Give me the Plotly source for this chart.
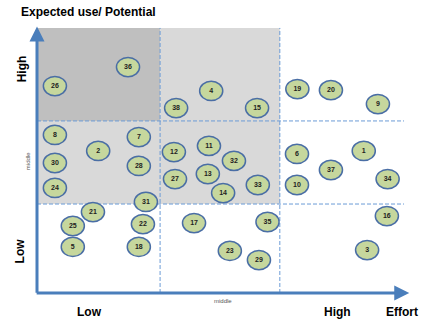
import plotly.graph_objects as go

# Bubble data: id, effort (x, 0-10), expected use/potential (y, 0-10)
ids = ["26", "36", "38", "4", "15", "19", "20", "9",
       "8", "2", "7", "30", "28", "24", "12", "11", "27", "13",
       "31", "21", "32", "14", "33", "6", "1", "37", "10", "34",
       "16", "25", "22", "17", "5", "18", "35", "23", "29", "3"]
effort = [0.48, 2.44, 3.73, 4.67, 5.90, 6.98, 7.88, 9.14,
          0.48, 1.64, 2.73, 0.48, 2.73, 0.48, 3.67, 4.61, 3.70, 4.58,
          2.92, 1.50, 5.28, 4.99, 5.92, 6.97, 8.76, 7.88, 6.97, 9.40,
          9.38, 0.96, 2.84, 4.21, 0.96, 2.73, 6.18, 5.17, 5.95, 8.85]
potential = [7.72, 8.43, 6.90, 7.54, 6.90, 7.61, 7.57, 7.05,
             5.90, 5.30, 5.82, 4.85, 4.74, 3.92, 5.26, 5.49, 4.25, 4.44,
             3.40, 3.02, 4.93, 3.73, 4.03, 5.19, 5.30, 4.59, 4.03, 4.25,
             2.87, 2.50, 2.57, 2.61, 1.72, 1.72, 2.65, 1.57, 1.23, 1.60]

# Zone thresholds (axis units)
x_cuts = [3.30, 6.51]
y_cuts = [3.32, 6.42]
x_end = 9.84
y_top = 9.89
x_max, y_max = 10.0, 10.0

fig = go.Figure()

shapes = []
# shaded zones
shapes.append(dict(type="rect", xref="x", yref="y", x0=0, x1=x_cuts[0], y0=y_cuts[1], y1=y_top,
                   fillcolor="#bfbfbf", line=dict(width=0), layer="below"))
shapes.append(dict(type="rect", xref="x", yref="y", x0=x_cuts[0], x1=x_cuts[1], y0=y_cuts[1], y1=y_top,
                   fillcolor="#d9d9d9", line=dict(width=0), layer="below"))
shapes.append(dict(type="rect", xref="x", yref="y", x0=0, x1=x_cuts[1], y0=y_cuts[0], y1=y_cuts[1],
                   fillcolor="#d9d9d9", line=dict(width=0), layer="below"))
# dashed dividers
for xc in x_cuts:
    shapes.append(dict(type="line", xref="x", yref="y", x0=xc, x1=xc, y0=0, y1=y_top,
                       line=dict(color="#6b9bd6", width=1, dash="4px,2px"), layer="below"))
for yc in y_cuts:
    shapes.append(dict(type="line", xref="x", yref="y", x0=0, x1=x_end, y0=yc, y1=yc,
                       line=dict(color="#6b9bd6", width=1, dash="4px,2px"), layer="below"))

# bubbles as ellipses (drawn under the text trace)
rx, ry = 0.31, 0.36
for xv, yv in zip(effort, potential):
    shapes.append(dict(type="circle", xref="x", yref="y", x0=xv - rx, x1=xv + rx,
                       y0=yv - ry, y1=yv + ry, fillcolor="#c6d79d",
                       line=dict(color="#4a6ea5", width=1.5), layer="below"))

fig.add_trace(go.Scatter(x=effort, y=potential, mode="text", text=["<b>%s</b>" % t for t in ids],
                         textfont=dict(family="Liberation Sans", size=7, color="#222222"),
                         textposition="middle center", hoverinfo="skip", showlegend=False))

annotations = []
# axis arrows
annotations.append(dict(x=0, y=y_top + 0.05, ax=0, ay=-0.05, xref="x", yref="y", axref="x", ayref="y",
                        text="", showarrow=True, arrowhead=2, arrowsize=1, arrowwidth=3,
                        arrowcolor="#4a7ebb"))
annotations.append(dict(x=x_max - 0.02, y=0, ax=-0.05, ay=0, xref="x", yref="y", axref="x", ayref="y",
                        text="", showarrow=True, arrowhead=2, arrowsize=1, arrowwidth=3,
                        arrowcolor="#4a7ebb"))

bold = dict(family="Liberation Sans", size=12, color="black")
small = dict(family="Liberation Sans", size=6, color="#555555")

# title
annotations.append(dict(xref="paper", yref="paper", x=-0.048, y=1.05, xanchor="left", yanchor="middle",
                        text="<b>Expected use/ Potential</b>", showarrow=False,
                        font=dict(family="Liberation Sans", size=12, color="black")))

# y-axis level labels
annotations.append(dict(xref="paper", yref="y", x=-0.04, y=8.35, text="<b>High</b>", textangle=-90,
                        showarrow=False, font=bold, xanchor="center"))
annotations.append(dict(xref="paper", yref="y", x=-0.024, y=4.92, text="middle", textangle=-90,
                        showarrow=False, font=small, xanchor="center"))
annotations.append(dict(xref="paper", yref="y", x=-0.045, y=1.56, text="<b>Low</b>", textangle=-90,
                        showarrow=False, font=bold, xanchor="center"))
# x-axis level labels
annotations.append(dict(xref="x", yref="paper", x=1.42, y=-0.038, text="<b>Low</b>", showarrow=False,
                        font=bold, yanchor="top"))
annotations.append(dict(xref="x", yref="paper", x=4.99, y=-0.012, text="middle", showarrow=False,
                        font=small, yanchor="top"))
annotations.append(dict(xref="x", yref="paper", x=8.05, y=-0.038, text="<b>High</b>", showarrow=False,
                        font=bold, yanchor="top"))
annotations.append(dict(xref="x", yref="paper", x=9.79, y=-0.038, text="<b>Effort</b>", showarrow=False,
                        font=bold, yanchor="top"))

fig.update_layout(
    width=434, height=326,
    margin=dict(l=37, r=24, t=25, b=33),
    paper_bgcolor="white", plot_bgcolor="white",
    shapes=shapes, annotations=annotations,
    xaxis=dict(range=[0, x_max], showgrid=False, zeroline=False, showticklabels=False, ticks="",
               showline=False),
    yaxis=dict(range=[0, y_max], showgrid=False, zeroline=False, showticklabels=False, ticks="",
               showline=False),
    showlegend=False,
)

fig.write_html("out.html")
